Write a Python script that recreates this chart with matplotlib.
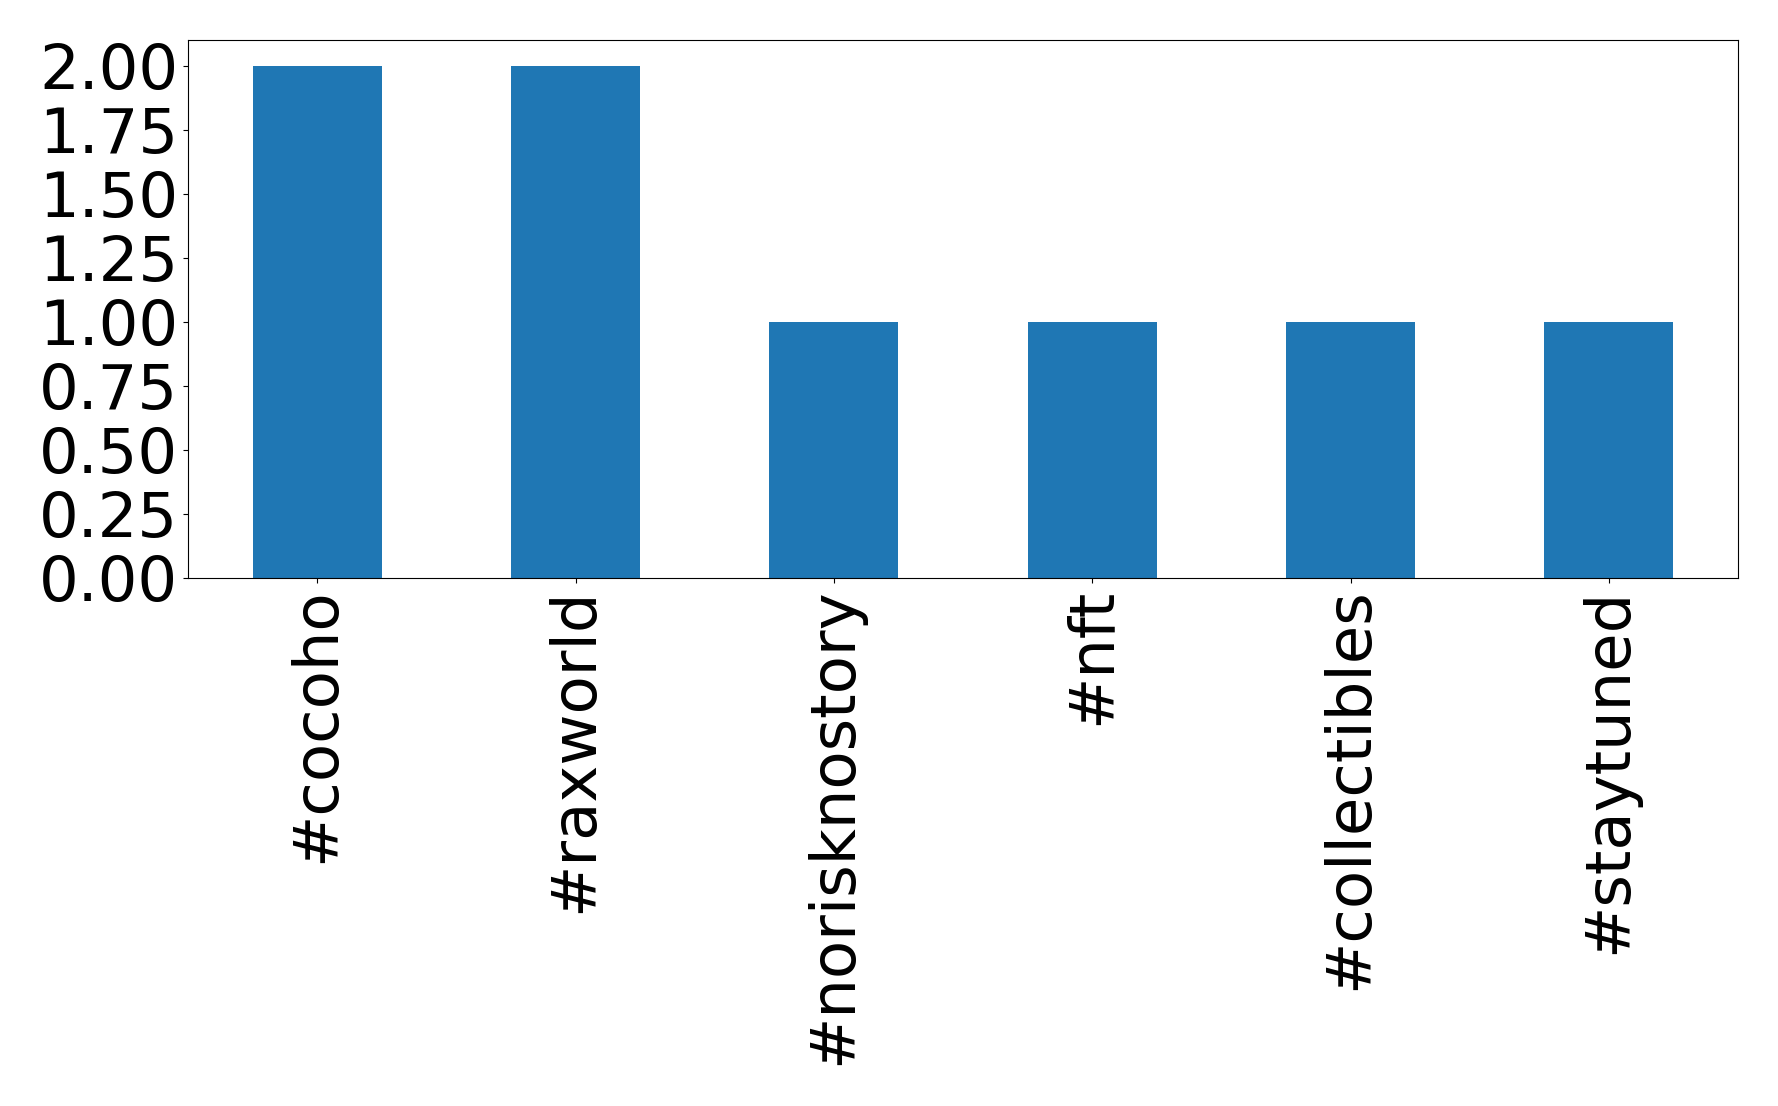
import matplotlib
matplotlib.use("Agg")
import matplotlib.pyplot as plt
import pandas as pd

categories = ["#cocoho", "#raxworld", "#norisknostory", "#nft", "#collectibles", "#staytuned"]
values = [2, 2, 1, 1, 1, 1]
yticks = [0, 0.25, 0.5, 0.75, 1.0, 1.25, 1.5, 1.75, 2.0]

fig = plt.figure(figsize=(17.78, 11.06), dpi=100)
ax = fig.add_axes([188/1778, 1 - 578/1106, (1738-188)/1778, (578-40)/1106])
s = pd.Series(values, index=categories)
s.plot(kind="bar", ax=ax, color="#1f77b4")
ax.tick_params(axis="both", labelsize=45)
ax.set_yticks(yticks)
ax.set_yticklabels([f"{v:.2f}" for v in yticks])
fig.savefig("out.png", dpi=100)
